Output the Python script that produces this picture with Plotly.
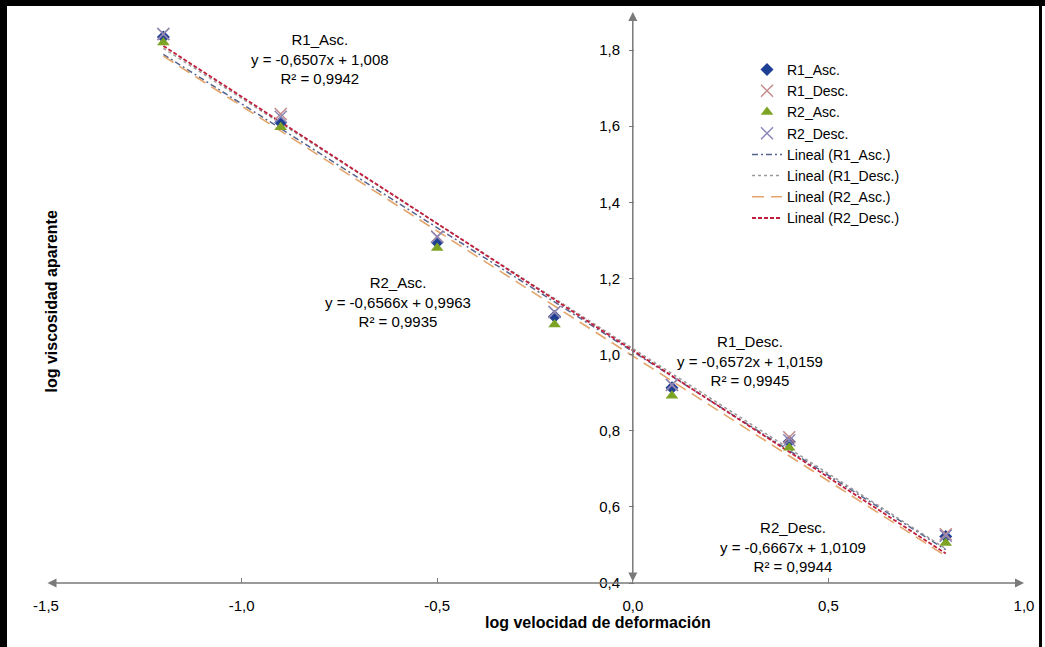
import plotly.graph_objects as go

# Shear-rate levels (log scale)
log_rate = [-1.2, -0.9, -0.5, -0.2, 0.1, 0.4, 0.8]

# Log apparent viscosity for each run
r1_asc = [1.834, 1.610, 1.295, 1.100, 0.913, 0.771, 0.522]
r1_desc = [1.842, 1.632, 1.310, 1.112, 0.921, 0.783, 0.528]
r2_asc = [1.820, 1.597, 1.280, 1.079, 0.892, 0.755, 0.505]
r2_desc = [1.842, 1.625, 1.309, 1.112, 0.920, 0.775, 0.524]

series_names = ["R1_Asc.", "R1_Desc.", "R2_Asc.", "R2_Desc."]
fit_names = ["Lineal (R1_Asc.)", "Lineal (R1_Desc.)", "Lineal (R2_Asc.)", "Lineal (R2_Desc.)"]

# Linear fits stated on the chart
slopes = [-0.6507, -0.6572, -0.6566, -0.6667]
intercepts = [1.008, 1.0159, 0.9963, 1.0109]
r_squared = ["0,9942", "0,9945", "0,9935", "0,9944"]
slope_txt = ["-0,6507", "-0,6572", "-0,6566", "-0,6667"]
intercept_txt = ["1,008", "1,0159", "0,9963", "1,0109"]

x_ticks = [-1.5, -1.0, -0.5, 0.0, 0.5, 1.0]
x_tick_labels = ["-1,5", "-1,0", "-0,5", "0,0", "0,5", "1,0"]
y_ticks = [0.4, 0.6, 0.8, 1.0, 1.2, 1.4, 1.6, 1.8]
y_tick_labels = ["0,4", "0,6", "0,8", "1,0", "1,2", "1,4", "1,6", "1,8"]

W, H = 1045, 647
ML, MR, MT, MB = 46, 21, 12, 64
PW, PH = W - ML - MR, H - MT - MB


def px_x(px):
    return (px - ML) / PW


def px_y(py):
    return (H - MB - py) / PH


FONT = "Arial, Liberation Sans, sans-serif"

fig = go.Figure()

line_styles = [
    dict(color="#56648f", dash="6px,3px,2px,3px", width=1.5),
    dict(color="#9a9a9a", dash="dot", width=1.5),
    dict(color="#e3a56c", dash="12px,7px", width=1.6),
    dict(color="#c01f3c", dash="4px,2px", width=1.8),
]

fit_x = [log_rate[0], log_rate[-1]]
for i, name in enumerate(fit_names):
    fit_y = [slopes[i] * xv + intercepts[i] for xv in fit_x]
    fig.add_trace(go.Scatter(
        x=fit_x, y=fit_y, mode="lines", line=line_styles[i],
        name=name, legendrank=10 + i,
    ))

marker_styles = [
    dict(symbol="diamond", color="#1f3f94", size=10),
    dict(symbol="x-thin", color="#c48a8a", size=12, line=dict(width=1.5, color="#c48a8a")),
    dict(symbol="triangle-up", color="#7ca324", size=11),
    dict(symbol="x-thin", color="#8a87b8", size=12, line=dict(width=1.5, color="#8a87b8")),
]
for i, (name, ys) in enumerate(zip(series_names, [r1_asc, r1_desc, r2_asc, r2_desc])):
    fig.add_trace(go.Scatter(
        x=log_rate, y=ys, mode="markers", marker=marker_styles[i],
        name=name, legendrank=i + 1,
    ))

# Fit equations
eq_pos = [(-0.80, 1.776), (0.30, 0.982), (-0.60, 1.139), (0.41, 0.495)]
for i, name in enumerate(series_names):
    fig.add_annotation(
        x=eq_pos[i][0], y=eq_pos[i][1], xref="x", yref="y", showarrow=False,
        text=f"{name}<br>y = {slope_txt[i]}x + {intercept_txt[i]}<br>R² = {r_squared[i]}",
        font=dict(family=FONT, size=15, color="#000"), align="center",
    )

# Axis lines with arrowheads at both ends
axis_grey = "#7a7a7a"
fig.add_annotation(x=x_ticks[-1], y=y_ticks[0], ax=x_ticks[0], ay=y_ticks[0],
                   xref="x", yref="y", axref="x", ayref="y", text="",
                   showarrow=True, arrowside="end+start", arrowhead=2,
                   arrowsize=1.2, arrowwidth=1.5, arrowcolor=axis_grey, standoff=0, startstandoff=0)
fig.add_annotation(x=0, y=1.9, ax=0, ay=y_ticks[0],
                   xref="x", yref="y", axref="x", ayref="y", text="",
                   showarrow=True, arrowside="end+start", arrowhead=2,
                   arrowsize=1.2, arrowwidth=1.5, arrowcolor=axis_grey, standoff=0, startstandoff=0)

# Axis titles
fig.add_annotation(x=px_x(598), y=px_y(633), xref="paper", yref="paper", showarrow=False,
                   text="<b>log velocidad de deformación</b>",
                   font=dict(family=FONT, size=16, color="#000"))
fig.add_annotation(x=px_x(40), y=px_y(302), xref="paper", yref="paper", showarrow=False,
                   text="<b>log viscosidad aparente</b>", textangle=-90,
                   font=dict(family=FONT, size=16, color="#000"))

# Black frame
frame = [
    dict(x0=px_x(0), x1=px_x(7), y0=px_y(0), y1=px_y(H)),
    dict(x0=px_x(0), x1=px_x(W), y0=px_y(0), y1=px_y(6)),
    dict(x0=px_x(1039), x1=px_x(1042), y0=px_y(0), y1=px_y(H)),
]
for f in frame:
    fig.add_shape(type="rect", xref="paper", yref="paper", fillcolor="black",
                  line=dict(width=0), layer="above", **f)

fig.update_layout(
    width=W, height=H,
    margin=dict(l=ML, r=MR, t=MT, b=MB, pad=0),
    paper_bgcolor="white", plot_bgcolor="white",
    showlegend=True,
    legend=dict(x=px_x(747), y=px_y(54), xanchor="left", yanchor="top",
                bgcolor="rgba(255,255,255,0)", font=dict(family=FONT, size=14, color="#000"),
                tracegroupgap=0, itemwidth=30),
    xaxis=dict(range=[-1.5, 1.0], tickvals=x_ticks, ticktext=x_tick_labels,
               showgrid=False, zeroline=False, showline=False,
               ticks="inside", ticklen=5, tickcolor=axis_grey,
               ticklabelstandoff=12,
               tickfont=dict(family=FONT, size=15, color="#000")),
    yaxis=dict(range=[0.4, 1.9], tickvals=y_ticks, ticktext=y_tick_labels,
               anchor="free", position=px_x(634),
               showgrid=False, zeroline=False, showline=False,
               ticks="outside", ticklen=5, tickcolor=axis_grey,
               ticklabelstandoff=6,
               tickfont=dict(family=FONT, size=15, color="#000")),
)

fig.write_html("out.html")
